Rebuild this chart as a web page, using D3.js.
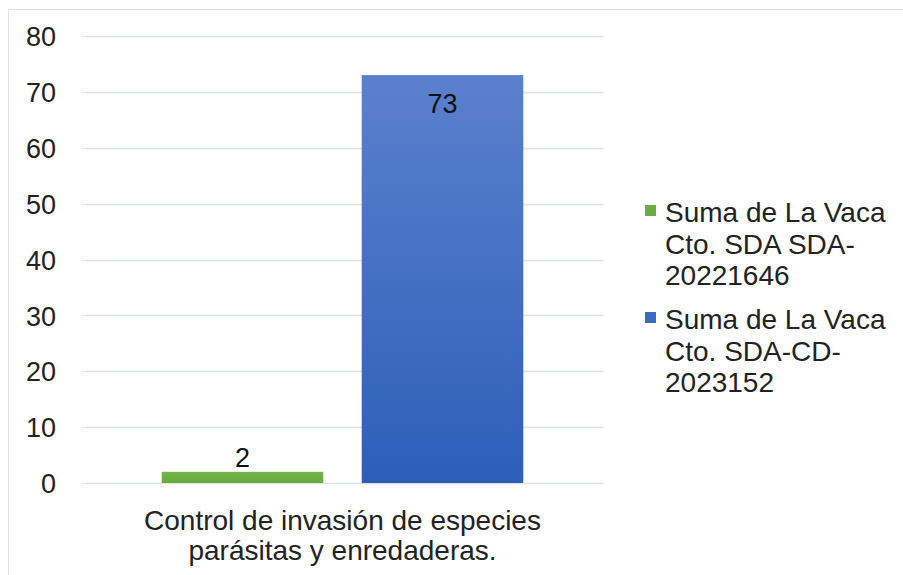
<!DOCTYPE html>
<html>
<head>
<meta charset="utf-8">
<script src="https://cdn.jsdelivr.net/npm/d3@7/dist/d3.min.js"></script>
<style>
  html, body { margin: 0; padding: 0; background: #fff; }
  svg { display: block; font-family: "Liberation Sans", Arial, sans-serif; }
</style>
</head>
<body>
<svg id="chart" width="903" height="575"></svg>
<script>
// Chart data
const categories = ["Control de invasión de especies parásitas y enredaderas."];
const categoryLines = [["Control de invasión de especies", "parásitas y enredaderas."]];
const seriesNames = [
  ["Suma de La Vaca", "Cto. SDA SDA-", "20221646"],
  ["Suma de La Vaca", "Cto. SDA-CD-", "2023152"]
];
const seriesA = [2];
const seriesB = [73];
const yTicks = [0, 10, 20, 30, 40, 50, 60, 70, 80];

const svg = d3.select("#chart");
const W = 903, H = 575;
const plot = { left: 82, right: 603, top: 36, bottom: 483 };

// Light frame around the chart area
svg.append("rect")
  .attr("x", 8.5).attr("y", 9.5)
  .attr("width", W).attr("height", H)
  .attr("fill", "none").attr("stroke", "#dfe3ea").attr("stroke-width", 1);

const defs = svg.append("defs");
const gBlue = defs.append("linearGradient").attr("id", "blueGrad")
  .attr("x1", 0).attr("y1", 0).attr("x2", 0).attr("y2", 1);
gBlue.append("stop").attr("offset", "0%").attr("stop-color", "#5b80cd");
gBlue.append("stop").attr("offset", "100%").attr("stop-color", "#2d5fb9");
const gGreen = defs.append("linearGradient").attr("id", "greenGrad")
  .attr("x1", 0).attr("y1", 0).attr("x2", 0).attr("y2", 1);
gGreen.append("stop").attr("offset", "0%").attr("stop-color", "#74b548");
gGreen.append("stop").attr("offset", "100%").attr("stop-color", "#66a93c");

const y = d3.scaleLinear().domain([0, 80]).range([plot.bottom, plot.top]);
const x0 = d3.scaleBand().domain(categories).range([plot.left, plot.right]).paddingOuter(0.2204).paddingInner(0);
const x1 = d3.scaleBand().domain(["a", "b"]).range([0, x0.bandwidth()]).paddingInner(0.192);

// Gridlines
svg.append("g").selectAll("line").data(yTicks).join("line")
  .attr("x1", plot.left).attr("x2", plot.right)
  .attr("y1", d => Math.round(y(d)) + 0.5).attr("y2", d => Math.round(y(d)) + 0.5)
  .attr("stroke", "#dde3ee").attr("stroke-width", 1.3);

// Y axis labels
const yAxis = d3.axisLeft(y).tickValues(yTicks).tickSize(0).tickPadding(0);
const yg = svg.append("g").attr("transform", `translate(56,0)`).call(yAxis);
yg.select(".domain").remove();
yg.selectAll("text")
  .attr("font-size", 27).attr("fill", "#222")
  .attr("font-family", "Liberation Sans, Arial, sans-serif")
  .attr("dy", "0.36em");

// Bars
const series = [
  { key: "a", values: seriesA, fill: "url(#greenGrad)" },
  { key: "b", values: seriesB, fill: "url(#blueGrad)" }
];
series.forEach(s => {
  categories.forEach((c, i) => {
    const v = s.values[i];
    const bx = x0(c) + x1(s.key);
    svg.append("rect")
      .attr("x", bx).attr("y", y(v))
      .attr("width", x1.bandwidth()).attr("height", y(0) - y(v))
      .attr("fill", s.fill);
    const inside = (y(0) - y(v)) > 40;
    svg.append("text")
      .attr("x", bx + x1.bandwidth() / 2)
      .attr("y", inside ? y(v) + 38 : y(v) - 5)
      .attr("text-anchor", "middle")
      .attr("font-size", 27).attr("fill", "#111")
      .text(v);
  });
});

// Category label
categories.forEach((c, i) => {
  const cx = x0(c) + x0.bandwidth() / 2;
  const t = svg.append("text")
    .attr("x", cx)
    .attr("y", 530)
    .attr("text-anchor", "middle")
    .attr("font-size", 28).attr("fill", "#222");
  categoryLines[i].forEach((ln, j) => {
    t.append("tspan").attr("x", cx).attr("dy", j === 0 ? 0 : 30).text(ln);
  });
});

// Legend
const legendColors = ["#6aad3f", "#3c69c2"];
const legendTop = [222, 329];
seriesNames.forEach((lines, i) => {
  svg.append("rect")
    .attr("x", 645).attr("y", legendTop[i] - 17)
    .attr("width", 11).attr("height", 11)
    .attr("fill", legendColors[i]);
  const t = svg.append("text")
    .attr("x", 665).attr("y", legendTop[i])
    .attr("font-size", 28).attr("fill", "#222");
  lines.forEach((ln, j) => {
    t.append("tspan").attr("x", 665).attr("dy", j === 0 ? 0 : 31.5).text(ln);
  });
});
</script>
</body>
</html>
